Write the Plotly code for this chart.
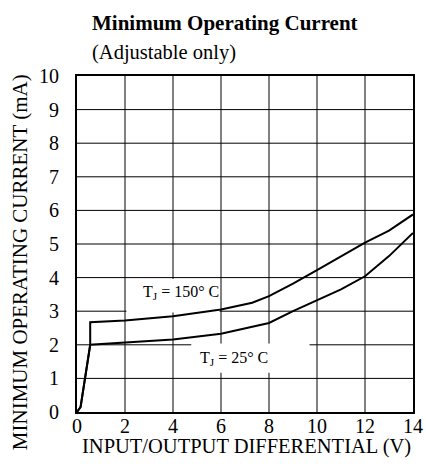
import plotly.graph_objects as go

# Data
x_150 = [0, 0.15, 0.55, 0.55, 2, 4, 6, 7.3, 8, 9, 10, 11, 12, 13, 14]
y_150 = [0, 0.15, 2.0, 2.67, 2.72, 2.85, 3.05, 3.25, 3.45, 3.82, 4.22, 4.63, 5.04, 5.40, 5.88]

x_25 = [0, 0.15, 0.55, 2, 4, 6, 7, 8, 9, 10, 11, 12, 13, 14]
y_25 = [0, 0.15, 2.0, 2.06, 2.16, 2.33, 2.48, 2.65, 3.0, 3.33, 3.65, 4.04, 4.64, 5.33]

x_ticks = [0, 2, 4, 6, 8, 10, 12, 14]
y_ticks = [0, 1, 2, 3, 4, 5, 6, 7, 8, 9, 10]

label_150 = "T<sub>J</sub> = 150° C"
label_25 = "T<sub>J</sub> = 25° C"

FONT = "Liberation Serif, Times New Roman, serif"

fig = go.Figure()
fig.add_trace(go.Scatter(x=x_150, y=y_150, mode="lines",
                         line=dict(color="black", width=2), showlegend=False))
fig.add_trace(go.Scatter(x=x_25, y=y_25, mode="lines",
                         line=dict(color="black", width=2), showlegend=False))

shapes = []
# vertical grid (gray) and horizontal grid (black)
for xv in x_ticks[1:-1]:
    shapes.append(dict(type="line", xref="x", yref="y", x0=xv, x1=xv, y0=0, y1=10,
                       line=dict(color="#808080", width=2), layer="below"))
for yv in y_ticks[1:-1]:
    shapes.append(dict(type="line", xref="x", yref="y", x0=0, x1=14, y0=yv, y1=yv,
                       line=dict(color="black", width=1), layer="below"))
# white label backgrounds covering the grid
shapes.append(dict(type="rect", xref="x", yref="y", x0=2.06, x1=5.94, y0=2.96, y1=3.96,
                   fillcolor="white", line=dict(width=0), layer="below"))
shapes.append(dict(type="rect", xref="x", yref="y", x0=4.76, x1=9.69, y0=1.17, y1=2.04,
                   fillcolor="white", line=dict(width=0), layer="below"))

annotations = [
    dict(text=label_150, x=4.32, y=3.55, xref="x", yref="y", showarrow=False,
         font=dict(family=FONT, size=16, color="black")),
    dict(text=label_25, x=6.56, y=1.58, xref="x", yref="y", showarrow=False,
         font=dict(family=FONT, size=16, color="black")),
    dict(text="<b>Minimum Operating Current</b>", x=0.0387, y=1.1577, xref="paper", yref="paper",
         xanchor="left", yanchor="middle", showarrow=False,
         font=dict(family=FONT, size=21, color="black")),
    dict(text="(Adjustable only)", x=0.0387, y=1.0714, xref="paper", yref="paper",
         xanchor="left", yanchor="middle", showarrow=False,
         font=dict(family=FONT, size=20.5, color="black")),
    dict(text="MINIMUM OPERATING CURRENT (mA)", x=-0.1696, y=0.446, xref="paper", yref="paper",
         xanchor="center", yanchor="middle", textangle=-90, showarrow=False,
         font=dict(family=FONT, size=21, color="black")),
    dict(text="INPUT/OUTPUT DIFFERENTIAL (V)", x=0.503, y=-0.104, xref="paper", yref="paper",
         xanchor="center", yanchor="middle", showarrow=False,
         font=dict(family=FONT, size=20.5, color="black")),
]

fig.update_layout(
    template="none",
    width=426, height=468,
    margin=dict(l=77, r=13, t=76, b=56, autoexpand=False),
    paper_bgcolor="white", plot_bgcolor="white",
    shapes=shapes, annotations=annotations,
    font=dict(family=FONT, size=20, color="black"),
    hovermode=False,
)
fig.update_xaxes(range=[0, 14], tickvals=x_ticks, showgrid=False, zeroline=False,
                 showline=True, linecolor="black", linewidth=2, mirror=True,
                 ticks="", ticklabelstandoff=-5, automargin=False,
                 tickfont=dict(family=FONT, size=20, color="black"))
fig.update_yaxes(range=[0, 10], tickvals=y_ticks, showgrid=False, zeroline=False,
                 showline=True, linecolor="black", linewidth=2, mirror=True,
                 ticks="", ticklabelstandoff=12, automargin=False,
                 tickfont=dict(family=FONT, size=20, color="black"))

fig.write_html("out.html",
               config={"displayModeBar": False, "staticPlot": True},
               post_script="document.body.style.margin='0';document.body.style.padding='0';")
